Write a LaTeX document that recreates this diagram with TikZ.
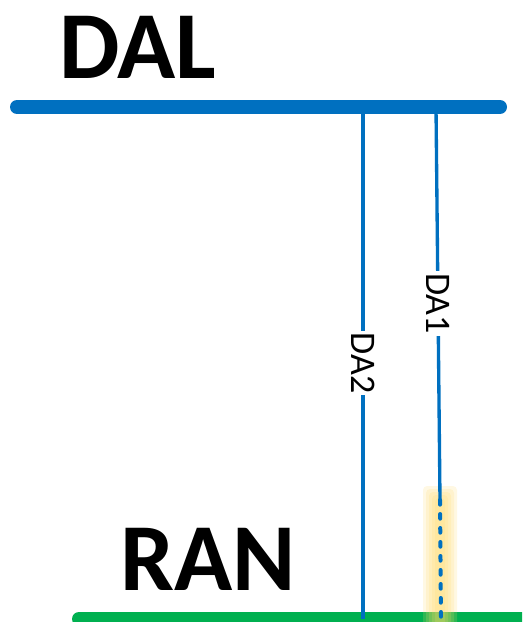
\documentclass[tikz,border=0pt]{standalone}
\usepackage{fontspec}
\setmainfont{Carlito}
\usetikzlibrary{positioning, calc}
\definecolor{busblue}{HTML}{0070C0}
\definecolor{busgreen}{HTML}{00B050}
\definecolor{glowyellow}{HTML}{FFD966}

\begin{document}
\begin{tikzpicture}[
    x=0.75pt, y=-0.75pt,
    bus/.style={line width=10.5pt, line cap=round, draw=#1},
    link/.style={line width=2.5pt, draw=busblue},
    lbl/.style={fill=white, inner sep=1.5pt, rotate=-90,
                font=\fontsize{27}{30}\selectfont},
    title/.style={inner sep=0pt, anchor=base west,
                  font=\bfseries\fontsize{72}{80}\selectfont}
]
    \useasboundingbox (0,0) rectangle (522,622);
    \clip (0,0) rectangle (522,622);

    \node[title] (dal) at (59,78) {DAL};
    \node[title] (ran) at (120,590) {RAN};

    \coordinate (dal-w) at (17,107);
    \coordinate (dal-e) at (500,107);
    \coordinate (ran-w) at (79,619);
    \coordinate (ran-e) at (560,619);
    \coordinate (da2-top) at (363,107);
    \coordinate (da2-bot) at (363,619);
    \coordinate (da1-top) at (436,107);
    \coordinate (da1-mid) at (440,500);
    \coordinate (da1-bot) at (441,619);

    % RAN bus
    \draw[bus=busgreen] (ran-w) -- (ran-e);

    % highlight on the dotted part
    \foreach \g in {17,14,11,8,5}
        \fill[glowyellow, opacity=0.18, rounded corners=3pt]
            (440-\g,503-\g) rectangle (440+\g,640);

    % links
    \draw[link] (da2-top) -- node[lbl] (da2) {DA2} (da2-bot);
    \draw[link] (da1-top) -- node[lbl] (da1) {DA1} (da1-mid);
    \draw[link, line width=3pt, line cap=round, dash pattern=on 3.5pt off 7pt]
        (da1-mid) -- (da1-bot);

    % DAL bus
    \draw[bus=busblue] (dal-w) -- (dal-e);
\end{tikzpicture}
\end{document}
